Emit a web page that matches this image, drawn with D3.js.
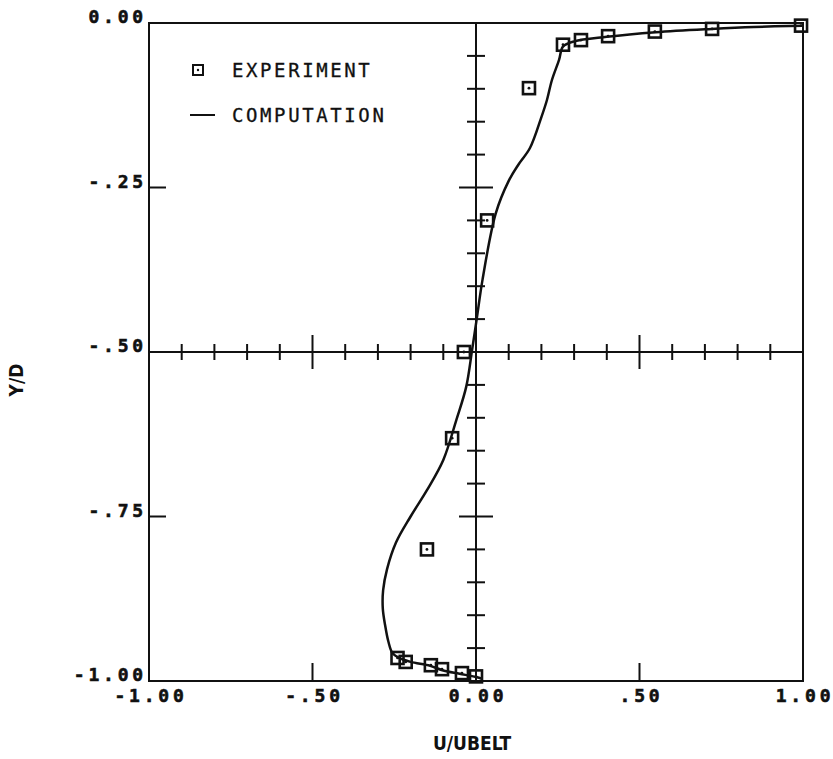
<!DOCTYPE html>
<html><head><meta charset="utf-8">
<script src="https://cdn.jsdelivr.net/npm/d3@7"></script>
<style>body{margin:0;background:#fff}svg{display:block}</style>
</head><body>
<script>
const expU = [0.994, 0.722, 0.547, 0.404, 0.321, 0.266, 0.162, 0.034, -0.037, -0.073, -0.150, -0.240, -0.215, -0.138, -0.104, -0.043, 0.0];
const expY = [-0.004, -0.009, -0.013, -0.020, -0.026, -0.033, -0.099, -0.300, -0.500, -0.631, -0.800, -0.965, -0.971, -0.976, -0.982, -0.988, -0.993];
const compU = [1.0, 0.85, 0.72, 0.55, 0.40, 0.30, 0.266, 0.254, 0.232, 0.217, 0.20, 0.165, 0.13, 0.10, 0.06, 0.02, 0.003, -0.012, -0.03, -0.06, -0.10, -0.15, -0.20, -0.245, -0.272, -0.284, -0.285, -0.278, -0.268, -0.255, -0.235, -0.20, -0.14, -0.10, -0.05, 0.0, 0.02];
const compY = [-0.004, -0.006, -0.009, -0.014, -0.021, -0.028, -0.036, -0.056, -0.087, -0.117, -0.143, -0.190, -0.215, -0.240, -0.290, -0.390, -0.447, -0.497, -0.553, -0.603, -0.664, -0.710, -0.750, -0.790, -0.830, -0.862, -0.890, -0.915, -0.940, -0.958, -0.965, -0.971, -0.977, -0.984, -0.989, -0.994, -0.997];
const xTickVals = [-1, -0.5, 0, 0.5, 1];
const xTickLabels = ["-1.00", "-.50", "0.00", ".50", "1.00"];
const yTickVals = [0, -0.25, -0.5, -0.75, -1];
const yTickLabels = ["0.00", "-.25", "-.50", "-.75", "-1.00"];
const legendLabels = ["EXPERIMENT", "COMPUTATION"];

const W = 833, H = 759;
const L = 149, R = 803, T = 23, B = 681;
const x = d3.scaleLinear().domain([-1, 1]).range([L, R]);
const y = d3.scaleLinear().domain([-1, 0]).range([B, T]);

const svg = d3.select("body").append("svg").attr("width", W).attr("height", H);
const ink = "#111";

// frame
svg.append("rect").attr("x", L).attr("y", T).attr("width", R - L).attr("height", B - T)
  .attr("fill", "none").attr("stroke", ink).attr("stroke-width", 2);

// central axes
const g = svg.append("g").attr("stroke", ink).attr("stroke-width", 2);
g.append("line").attr("x1", L).attr("x2", R).attr("y1", y(-0.5)).attr("y2", y(-0.5));
g.append("line").attr("x1", x(0)).attr("x2", x(0)).attr("y1", T).attr("y2", B);
d3.range(-9, 10).forEach(i => {
  if (i === 0) return;
  const v = i / 10;
  const h = Math.abs(i) === 5 ? 17 : 8;
  g.append("line").attr("x1", x(v)).attr("x2", x(v)).attr("y1", y(-0.5) - h).attr("y2", y(-0.5) + h);
});
d3.range(1, 20).forEach(i => {
  if (i === 10) return;
  const v = -i / 20;
  const h = (i === 5 || i === 15) ? 17 : 9;
  g.append("line").attr("x1", x(0) - h).attr("x2", x(0) + h).attr("y1", y(v)).attr("y2", y(v));
});
[-0.25, -0.75].forEach(v => g.append("line").attr("x1", L).attr("x2", L + 17).attr("y1", y(v)).attr("y2", y(v)));
[-0.5, 0.5].forEach(v => g.append("line").attr("x1", x(v)).attr("x2", x(v)).attr("y1", B).attr("y2", B - 18));

// tick labels
const tickFont = "'DejaVu Sans Mono', monospace";
function tickText(sel) {
  sel.attr("font-family", tickFont).attr("font-weight", "bold").attr("font-size", 18)
    .attr("letter-spacing", 3.8).attr("fill", ink).attr("stroke", ink).attr("stroke-width", 0.6);
}
yTickVals.forEach((v, i) => {
  svg.append("text").attr("x", 147).attr("y", y(v)).attr("text-anchor", "end").call(tickText).text(yTickLabels[i]);
});
xTickVals.forEach((v, i) => {
  svg.append("text").attr("x", x(v) + 2).attr("y", 702).attr("text-anchor", "middle").call(tickText).text(xTickLabels[i]);
});

// axis titles
const titleFont = "'Liberation Sans Narrow', 'DejaVu Sans Condensed', sans-serif";
svg.append("text").attr("x", 472).attr("y", 750).attr("text-anchor", "middle")
  .attr("font-family", titleFont).attr("font-weight", "bold").attr("font-size", 19).attr("fill", ink).text("U/UBELT");
svg.append("text").attr("transform", "translate(23,380) rotate(-90)").attr("text-anchor", "middle")
  .attr("font-family", titleFont).attr("font-weight", "bold").attr("font-size", 19).attr("fill", ink).text("Y/D");

// computation curve
const comp = compU.map((u, i) => [u, compY[i]]);
svg.append("path").datum(comp)
  .attr("d", d3.line().x(d => x(d[0])).y(d => y(d[1])).curve(d3.curveCatmullRom.alpha(0.5)))
  .attr("fill", "none").attr("stroke", ink).attr("stroke-width", 2.5);

// experiment squares
const S = 12;
const exp = expU.map((u, i) => [u, expY[i]]);
const mk = svg.append("g");
exp.forEach(d => {
  mk.append("rect").attr("x", x(d[0]) - S / 2).attr("y", y(d[1]) - S / 2).attr("width", S).attr("height", S)
    .attr("fill", "none").attr("stroke", ink).attr("stroke-width", 2.6);
  mk.append("circle").attr("cx", x(d[0])).attr("cy", y(d[1])).attr("r", 1.4).attr("fill", ink);
});

// legend
const legFont = "'DejaVu Sans Mono', monospace";
svg.append("rect").attr("x", 198 - 5).attr("y", 70 - 5).attr("width", 10).attr("height", 10)
  .attr("fill", "none").attr("stroke", ink).attr("stroke-width", 2);
svg.append("circle").attr("cx", 198).attr("cy", 70).attr("r", 1.2).attr("fill", ink);
svg.append("line").attr("x1", 190).attr("x2", 215).attr("y1", 115).attr("y2", 115).attr("stroke", ink).attr("stroke-width", 2);
legendLabels.forEach((t, i) => {
  svg.append("text").attr("x", 232).attr("y", [77, 122][i])
    .attr("font-family", legFont).attr("font-size", 19).attr("letter-spacing", 2.6)
    .attr("fill", ink).attr("stroke", ink).attr("stroke-width", 0.3).text(t);
});
</script>
</body></html>
